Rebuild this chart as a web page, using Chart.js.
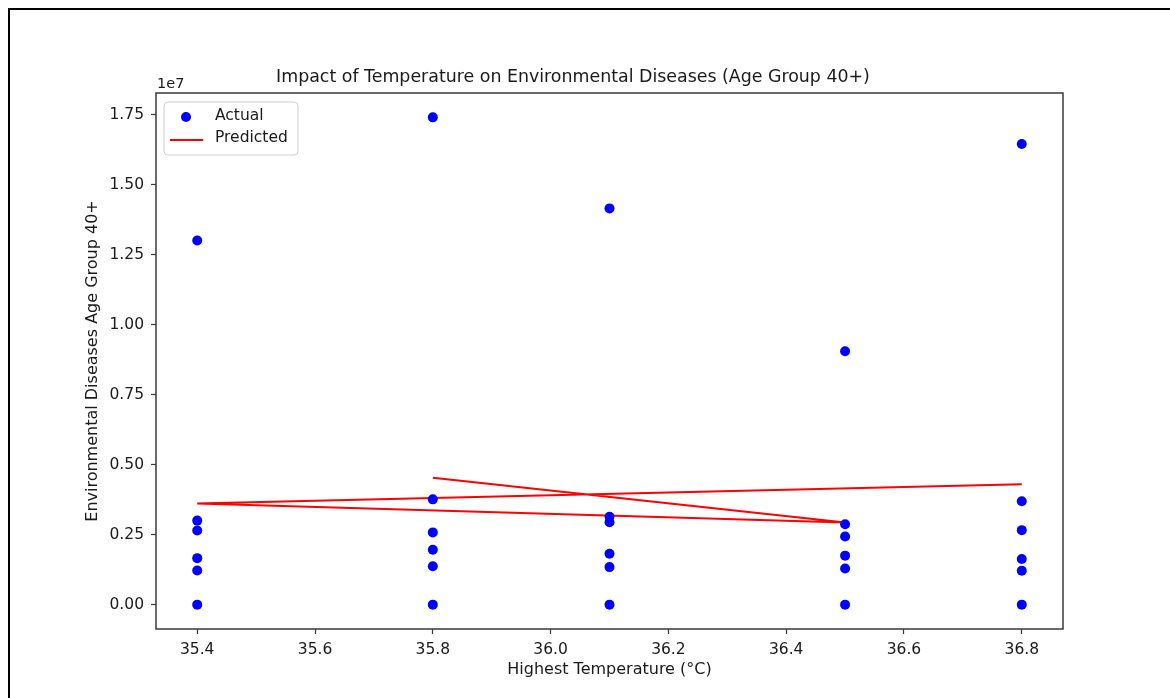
<!DOCTYPE html>
<html>
<head>
<meta charset="utf-8">
<script src="https://cdn.jsdelivr.net/npm/chart.js@4.4.1/dist/chart.umd.min.js"></script>
<style>
	html, body { margin: 0; padding: 0; background: #fff; }
	#wrap { width: 1170px; height: 698px; position: relative; }
</style>
</head>
<body>
<div id="wrap"><canvas id="disease-chart" width="1170" height="698"></canvas></div>
<script>
'use strict';

const chartTitle = 'Impact of Temperature on Environmental Diseases (Age Group 40+)';
const xLabel = 'Highest Temperature (°C)';
const yLabel = 'Environmental Diseases Age Group 40+';

// actual observations (x = temperature, y = cases)
const actualTemp = [
	35.4, 35.4, 35.4, 35.4, 35.4, 35.4,
	35.8, 35.8, 35.8, 35.8, 35.8, 35.8,
	36.1, 36.1, 36.1, 36.1, 36.1, 36.1,
	36.5, 36.5, 36.5, 36.5, 36.5, 36.5,
	36.8, 36.8, 36.8, 36.8, 36.8, 36.8
];
const actualCases = [
	13000000, 3000000, 2650000, 1660000, 1220000, 0,
	17400000, 3760000, 2580000, 1960000, 1370000, 0,
	14150000, 3140000, 2940000, 1820000, 1340000, 0,
	9050000, 2870000, 2430000, 1750000, 1290000, 0,
	16450000, 3690000, 2660000, 1630000, 1210000, 0
];

// model predictions, in the order they were plotted
const predictedTemp = [36.8, 35.4, 36.5, 35.8];
const predictedCases = [4300000, 3610000, 2930000, 4530000];

const xTicks = [35.4, 35.6, 35.8, 36.0, 36.2, 36.4, 36.6, 36.8];
const yTicks = [0, 2500000, 5000000, 7500000, 10000000, 12500000, 15000000, 17500000];

const FONT = 'DejaVu Sans';
const TEXT = '#1a1a1a';

const frame = {
	id: 'frame',
	afterDraw(chart){
		const ctx = chart.ctx;
		const a = chart.chartArea;
		ctx.save();
		// axes box
		ctx.strokeStyle = '#3a3a3a';
		ctx.lineWidth = 1.5;
		ctx.strokeRect(a.left, a.top, a.right - a.left, a.bottom - a.top);
		// outer picture border
		ctx.strokeStyle = '#000';
		ctx.lineWidth = 2;
		ctx.beginPath();
		ctx.moveTo(9, 698);
		ctx.lineTo(9, 9);
		ctx.lineTo(1170, 9);
		ctx.stroke();
		// title and offset text
		ctx.fillStyle = TEXT;
		ctx.textBaseline = 'middle';
		ctx.textAlign = 'center';
		ctx.font = '17.4px "' + FONT + '"';
		ctx.fillText(chartTitle, 573, 77);
		ctx.textAlign = 'left';
		ctx.font = '14.5px "' + FONT + '"';
		ctx.fillText('1e7', a.left + 1, 84);

		// legend
		const lx = 164, ly = 102, lw = 134, lh = 53;
		ctx.beginPath();
		ctx.roundRect(lx, ly, lw, lh, 4);
		ctx.fillStyle = 'rgba(255,255,255,0.8)';
		ctx.fill();
		ctx.strokeStyle = '#d0d0d0';
		ctx.lineWidth = 1;
		ctx.stroke();
		chart.data.datasets.forEach(function(ds, i){
			const y = 116 + i * 22;
			if(ds.showLine){
				ctx.strokeStyle = ds.borderColor;
				ctx.lineWidth = ds.borderWidth;
				ctx.beginPath();
				ctx.moveTo(170, y + 2);
				ctx.lineTo(203, y + 2);
				ctx.stroke();
			}else{
				ctx.fillStyle = ds.backgroundColor;
				ctx.beginPath();
				ctx.arc(186, y + 1, ds.pointRadius, 0, Math.PI * 2);
				ctx.fill();
			}
			ctx.fillStyle = TEXT;
			ctx.font = '15.5px "' + FONT + '"';
			ctx.fillText(ds.label, 215, y);
		});
		ctx.restore();
	}
};

const toPoints = (xs, ys) => xs.map((x, i) => ({x: x, y: ys[i]}));

new Chart(document.getElementById('disease-chart'), {
	type: 'scatter',
	data: {
		datasets: [{
			label: 'Actual',
			data: toPoints(actualTemp, actualCases),
			backgroundColor: '#0000ff',
			borderColor: '#0000ff',
			pointRadius: 5,
			pointBorderWidth: 0
		}, {
			label: 'Predicted',
			data: toPoints(predictedTemp, predictedCases),
			showLine: true,
			borderColor: '#ff0000',
			backgroundColor: '#ff0000',
			borderWidth: 2,
			pointRadius: 0,
			tension: 0
		}]
	},
	options: {
		responsive: false,
		animation: false,
		layout: {padding: {left: 0, right: 107, top: 93, bottom: 0}},
		plugins: {
			legend: {display: false},
			tooltip: {enabled: false}
		},
		scales: {
			x: {
				type: 'linear',
				min: 35.33,
				max: 36.87,
				afterFit(scale){ scale.height = 69; },
				afterBuildTicks(scale){ scale.ticks = xTicks.map(v => ({value: v})); },
				grid: {display: true, drawOnChartArea: false, drawTicks: true, tickLength: 5, tickColor: '#3a3a3a', tickWidth: 1.2},
				border: {display: false},
				ticks: {
					padding: 7,
					color: TEXT,
					font: {family: FONT, size: 15.5},
					maxRotation: 0,
					callback: v => v.toFixed(1)
				},
				title: {
					display: true,
					text: xLabel,
					color: TEXT,
					font: {family: FONT, size: 16},
					padding: {top: 0, bottom: 19}
				}
			},
			y: {
				type: 'linear',
				min: -870000,
				max: 18270000,
				afterFit(scale){ scale.width = 156; },
				afterBuildTicks(scale){ scale.ticks = yTicks.map(v => ({value: v})); },
				grid: {display: true, drawOnChartArea: false, drawTicks: true, tickLength: 5, tickColor: '#3a3a3a', tickWidth: 1.2},
				border: {display: false},
				ticks: {
					padding: 7,
					color: TEXT,
					font: {family: FONT, size: 15.5},
					callback: v => (v / 1e7).toFixed(2)
				},
				title: {
					display: true,
					text: yLabel,
					color: TEXT,
					font: {family: FONT, size: 16},
					padding: {top: 83, bottom: 0}
				}
			}
		}
	},
	plugins: [frame]
});
</script>
</body>
</html>
